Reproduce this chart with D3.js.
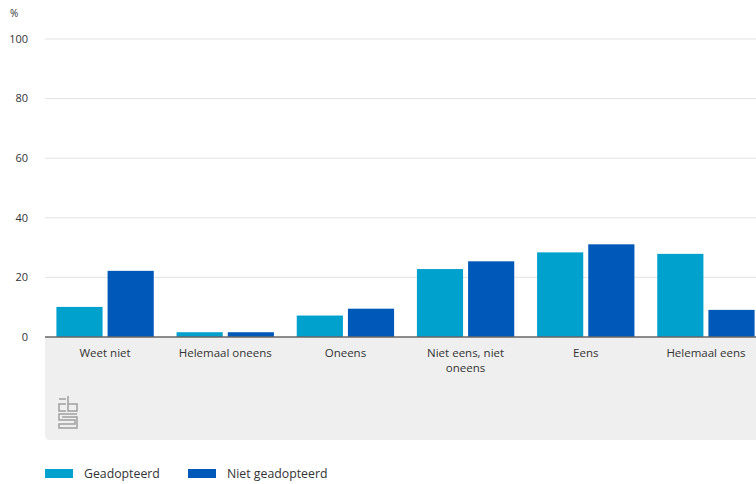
<!DOCTYPE html>
<html>
<head>
<meta charset="utf-8">
<script src="https://cdn.jsdelivr.net/npm/d3@7"></script>
<style>
html,body{margin:0;padding:0;background:#fff;}
svg{display:block;font-family:"Open Sans","Noto Sans",sans-serif;}
</style>
</head>
<body>
<svg id="chart" width="756" height="484"></svg>
<script>
const categories = ["Weet niet", "Helemaal oneens", "Oneens", "Niet eens, niet oneens", "Eens", "Helemaal eens"];
const seriesNames = ["Geadopteerd", "Niet geadopteerd"];
const geadopteerd = [10.1, 1.6, 7.2, 22.8, 28.4, 27.9];
const nietGeadopteerd = [22.2, 1.6, 9.5, 25.4, 31.1, 9.1];
const yTicks = [0, 20, 40, 60, 80, 100];
const colors = ["#00a1cd", "#0058b8"];

const svg = d3.select("#chart");
const W = 756;
const plotLeft = 45, plotTop = 39, plotBottom = 337;

const y = d3.scaleLinear().domain([0, 100]).range([plotBottom, plotTop]);
const x0 = d3.scaleBand().domain(categories).range([plotLeft, 766]).paddingInner(0.19).paddingOuter(0.095);
const x1 = d3.scaleBand().domain(seriesNames).range([0, x0.bandwidth()]).paddingInner(0.098).paddingOuter(0);

// grey label area
svg.append("path")
  .attr("d", `M${plotLeft},${plotBottom} H${W} V440 H${plotLeft+5} Q${plotLeft},440 ${plotLeft},435 Z`)
  .attr("fill", "#efefef");

// gridlines
svg.append("g").selectAll("line").data(yTicks.filter(d => d > 0)).join("line")
  .attr("x1", plotLeft).attr("x2", W)
  .attr("y1", d => y(d)).attr("y2", d => y(d))
  .attr("stroke", "#e3e3e3").attr("stroke-width", 1);

// y tick labels
svg.append("g").selectAll("text").data(yTicks).join("text")
  .attr("x", 28).attr("y", d => y(d)).attr("dy", "0.35em")
  .attr("text-anchor", "end").attr("font-size", 11).attr("fill", "#333")
  .text(d => d);
svg.append("text").attr("x", 10).attr("y", 17).attr("font-size", 10).attr("fill", "#333").text("%");

// bars
const rows = categories.map((c, i) => ({cat: c, vals: [geadopteerd[i], nietGeadopteerd[i]]}));
const g = svg.append("g").selectAll("g").data(rows).join("g")
  .attr("transform", d => `translate(${x0(d.cat)},0)`);
g.selectAll("rect").data(d => d.vals.map((v, j) => ({name: seriesNames[j], v, j}))).join("rect")
  .attr("x", d => x1(d.name)).attr("width", x1.bandwidth())
  .attr("y", d => y(d.v)).attr("height", d => y(0) - y(d.v))
  .attr("fill", d => colors[d.j]);

// baseline
svg.append("line").attr("x1", plotLeft).attr("x2", W).attr("y1", y(0)).attr("y2", y(0))
  .attr("stroke", "#666").attr("stroke-width", 1.5);

// x labels (wrapped)
function wrapLabel(t) {
  if (t === "Niet eens, niet oneens") return ["Niet eens, niet", "oneens"];
  return [t];
}
const xl = svg.append("g").selectAll("text").data(categories).join("text")
  .attr("x", d => x0(d) + x0.bandwidth() / 2).attr("y", 357)
  .attr("text-anchor", "middle").attr("font-size", 11.5).attr("fill", "#333");
xl.each(function(d) {
  const lines = wrapLabel(d);
  d3.select(this).selectAll("tspan").data(lines).join("tspan")
    .attr("x", x0(d) + x0.bandwidth() / 2).attr("dy", (l, i) => i === 0 ? 0 : 15).text(l => l);
});

// CBS logo (simplified)
const logo = svg.append("g").attr("transform", "translate(59,396)")
  .attr("fill", "none").attr("stroke", "#a0a0a0").attr("stroke-width", 1.5);
logo.append("path").attr("d", "M7,8 H0 V15 H7");
logo.append("path").attr("d", "M9,0 V15 H18 V8 H9");
logo.append("path").attr("d", "M0,3 H7");
logo.append("path").attr("d", "M18,18 H0 V24 H16 V28 H0 V32 H18 V21 H3");

// legend
const leg = svg.append("g").selectAll("g").data(seriesNames).join("g")
  .attr("transform", (d, i) => `translate(${i === 0 ? 45 : 188},469)`);
leg.append("rect").attr("width", 28).attr("height", 9).attr("fill", (d, i) => colors[i]);
leg.append("text").attr("x", 39).attr("y", 5).attr("dy", "0.35em")
  .attr("font-size", 12.3).attr("fill", "#333").text(d => d);
</script>
</body>
</html>
